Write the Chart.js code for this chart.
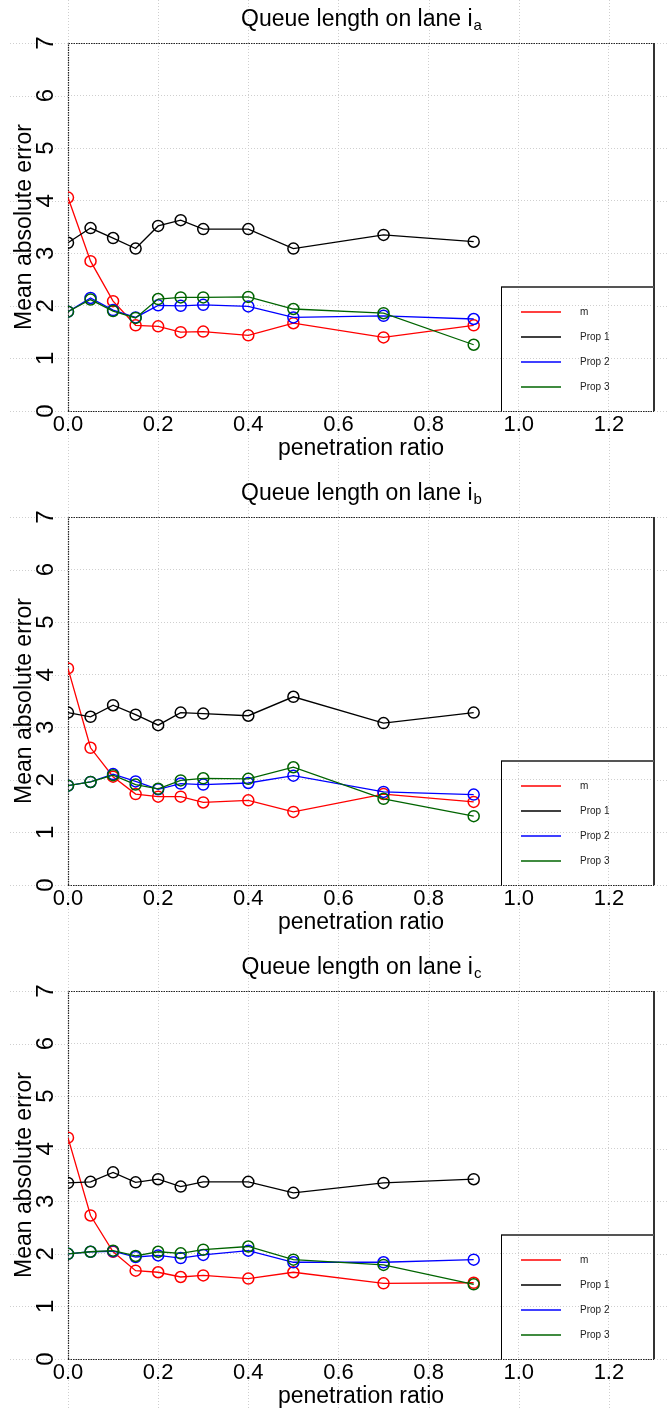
<!DOCTYPE html>
<html>
<head>
<meta charset="utf-8">
<script src="https://cdn.jsdelivr.net/npm/chart.js@4.4.1/dist/chart.umd.min.js"></script>
<style>
html, body { margin: 0; padding: 0; background: #fff; width: 667px; height: 1410px; overflow: hidden; }
.panel { position: absolute; left: 0; width: 667px; height: 474px; }
</style>
</head>
<body>
<div class="panel" style="top:0"><canvas id="chart-a" width="667" height="474"></canvas></div>
<div class="panel" style="top:474px"><canvas id="chart-b" width="667" height="474"></canvas></div>
<div class="panel" style="top:948px"><canvas id="chart-c" width="667" height="474"></canvas></div>
<script>
var penetration = [0, 0.05, 0.1, 0.15, 0.2, 0.25, 0.3, 0.4, 0.5, 0.7, 0.9];
var xTickLabels = ['0.0', '0.2', '0.4', '0.6', '0.8', '1.0', '1.2'];
var yTickLabels = ['0', '1', '2', '3', '4', '5', '6', '7'];
var seriesNames = ['m', 'Prop 1', 'Prop 2', 'Prop 3'];
var seriesColors = ['#ff0000', '#000000', '#0000ff', '#006400'];

// lane i_a
var laneA_m     = [4.06, 2.85, 2.09, 1.63, 1.61, 1.50, 1.51, 1.44, 1.67, 1.40, 1.63];
var laneA_prop1 = [3.20, 3.48, 3.29, 3.09, 3.52, 3.63, 3.46, 3.46, 3.09, 3.35, 3.22];
var laneA_prop2 = [1.89, 2.15, 1.92, 1.78, 2.01, 2.00, 2.02, 1.99, 1.78, 1.81, 1.75];
var laneA_prop3 = [1.89, 2.12, 1.90, 1.77, 2.13, 2.16, 2.16, 2.17, 1.94, 1.86, 1.26];

// lane i_b
var laneB_m     = [4.12, 2.61, 2.06, 1.73, 1.68, 1.68, 1.57, 1.61, 1.39, 1.73, 1.58];
var laneB_prop1 = [3.28, 3.20, 3.42, 3.24, 3.04, 3.28, 3.26, 3.22, 3.58, 3.08, 3.28];
var laneB_prop2 = [1.89, 1.96, 2.11, 1.97, 1.82, 1.93, 1.91, 1.94, 2.08, 1.77, 1.72];
var laneB_prop3 = [1.89, 1.96, 2.09, 1.91, 1.83, 1.99, 2.03, 2.02, 2.24, 1.64, 1.31];

// lane i_c
var laneC_m     = [4.21, 2.73, 2.04, 1.68, 1.65, 1.56, 1.59, 1.53, 1.65, 1.44, 1.45];
var laneC_prop1 = [3.35, 3.37, 3.55, 3.36, 3.42, 3.28, 3.37, 3.37, 3.16, 3.35, 3.42];
var laneC_prop2 = [2.00, 2.04, 2.05, 1.94, 1.97, 1.92, 1.98, 2.06, 1.84, 1.84, 1.89];
var laneC_prop3 = [2.00, 2.04, 2.06, 1.96, 2.04, 2.01, 2.08, 2.14, 1.89, 1.79, 1.42];

var FONT = "'Liberation Sans', Arial, sans-serif";
var GRID_COLOR = '#cfcfcf';

/**
 * Grid lines of the R plot run past the plot box, over the whole figure
 */
var gridExtension = {
    id: 'gridExtension',
    beforeDraw: function (chart) {
        var ctx = chart.ctx;
        var area = chart.chartArea;
        var xs = chart.scales.x;
        var ys = chart.scales.y;
        ctx.save();
        ctx.strokeStyle = GRID_COLOR;
        ctx.lineWidth = 1;
        ctx.setLineDash([1, 2]);
        ctx.beginPath();
        xs.ticks.forEach(function (t) {
            var px = Math.round(xs.getPixelForValue(t.value)) + 0.5;
            ctx.moveTo(px, 0);
            ctx.lineTo(px, area.top);
            ctx.moveTo(px, area.bottom);
            ctx.lineTo(px, chart.height);
        });
        ys.ticks.forEach(function (t) {
            var py = Math.round(ys.getPixelForValue(t.value)) + 0.5;
            ctx.moveTo(10, py);
            ctx.lineTo(area.left, py);
            ctx.moveTo(area.right, py);
            ctx.lineTo(chart.width, py);
        });
        ctx.stroke();
        ctx.restore();
    }
};

/**
 * Plot box : dotted on left, top and bottom, solid on the right
 */
var plotBox = {
    id: 'plotBox',
    beforeDatasetsDraw: function (chart) {
        var ctx = chart.ctx;
        var a = chart.chartArea;
        ctx.save();
        ctx.strokeStyle = '#222';
        ctx.lineWidth = 1.2;
        ctx.setLineDash([1.5, 1]);
        ctx.beginPath();
        ctx.moveTo(a.left + 0.5, a.bottom);
        ctx.lineTo(a.left + 0.5, a.top + 0.5);
        ctx.lineTo(a.right, a.top + 0.5);
        ctx.moveTo(a.left, a.bottom + 0.5);
        ctx.lineTo(a.right, a.bottom + 0.5);
        ctx.stroke();
        ctx.setLineDash([]);
        ctx.strokeStyle = '#333';
        ctx.lineWidth = 2;
        ctx.beginPath();
        ctx.moveTo(a.right, a.top);
        ctx.lineTo(a.right, a.bottom);
        ctx.stroke();
        ctx.restore();
    }
};

/**
 * Legend box at the lower right of the plot
 */
var boxLegend = {
    id: 'boxLegend',
    afterDatasetsDraw: function (chart) {
        var ctx = chart.ctx;
        var a = chart.chartArea;
        var left = a.right - 153;
        var top = a.top + 244;
        ctx.save();
        ctx.strokeStyle = '#555';
        ctx.lineWidth = 2;
        ctx.beginPath();
        ctx.moveTo(left, top);
        ctx.lineTo(a.right, top);
        ctx.stroke();
        ctx.strokeStyle = '#000';
        ctx.lineWidth = 1;
        ctx.beginPath();
        ctx.moveTo(left + 0.5, top);
        ctx.lineTo(left + 0.5, a.bottom);
        ctx.stroke();

        ctx.font = '10px ' + FONT;
        ctx.textBaseline = 'middle';
        ctx.textAlign = 'left';
        chart.data.datasets.forEach(function (ds, i) {
            var y = top + 25 * (i + 1);
            ctx.strokeStyle = ds.borderColor;
            ctx.lineWidth = 1.5;
            ctx.beginPath();
            ctx.moveTo(left + 20, y);
            ctx.lineTo(left + 60, y);
            ctx.stroke();
            ctx.fillStyle = '#222';
            ctx.fillText(ds.label, left + 79, y);
        });
        ctx.restore();
    }
};

/**
 * Title with a subscript lane letter
 */
var laneTitle = {
    id: 'laneTitle',
    afterDraw: function (chart) {
        var opts = chart.options.plugins.laneTitle;
        var ctx = chart.ctx;
        var a = chart.chartArea;
        var main = 'Queue length on lane i';
        ctx.save();
        ctx.fillStyle = '#000';
        ctx.textBaseline = 'alphabetic';
        ctx.textAlign = 'left';
        ctx.font = '23px ' + FONT;
        var w1 = ctx.measureText(main).width;
        ctx.font = '15px ' + FONT;
        var w2 = ctx.measureText(opts.sub).width;
        var x0 = (a.left + a.right) / 2 - (w1 + w2) / 2;
        ctx.font = '23px ' + FONT;
        ctx.fillText(main, x0, 26);
        ctx.font = '15px ' + FONT;
        ctx.fillText(opts.sub, x0 + w1 + 1, 30);
        ctx.restore();
    }
};

/**
 * Build one panel
 */
function makePanel(canvasId, sub, values) {
    var datasets = [];
    for (var i = 0; i < seriesNames.length; i++) {
        var pts = [];
        for (var j = 0; j < penetration.length; j++) {
            pts.push({x: penetration[j], y: values[i][j]});
        }
        datasets.push({
            label: seriesNames[i],
            data: pts,
            borderColor: seriesColors[i],
            backgroundColor: 'rgba(0,0,0,0)',
            pointBorderColor: seriesColors[i],
            pointBackgroundColor: 'rgba(0,0,0,0)',
            borderWidth: 1.3,
            pointRadius: 5.5,
            pointBorderWidth: 1.5,
            pointHoverRadius: 5.5,
            tension: 0,
            // last series on top, like R
            order: seriesNames.length - i
        });
    }

    var ctx = document.getElementById(canvasId).getContext('2d');
    return new Chart(ctx, {
        type: 'line',
        data: {datasets: datasets},
        plugins: [gridExtension, plotBox, boxLegend, laneTitle],
        options: {
            responsive: false,
            animation: false,
            devicePixelRatio: 1,
            layout: {padding: {top: 43, right: 13, left: 0, bottom: 0}},
            plugins: {
                legend: {display: false},
                tooltip: {enabled: false},
                laneTitle: {sub: sub}
            },
            scales: {
                x: {
                    type: 'linear',
                    min: 0,
                    max: 1.3,
                    afterBuildTicks: function (scale) {
                        scale.ticks = xTickLabels.map(function (l) { return {value: parseFloat(l)}; });
                    },
                    afterFit: function (scale) { scale.height = 63; },
                    ticks: {
                        callback: function (v, idx) { return xTickLabels[idx]; },
                        font: {family: FONT, size: 22},
                        color: '#000',
                        padding: 1,
                        maxRotation: 0,
                        autoSkip: false
                    },
                    grid: {color: GRID_COLOR, drawTicks: false},
                    border: {display: false, dash: [1, 2]},
                    title: {
                        display: true,
                        text: 'penetration ratio',
                        font: {family: FONT, size: 23},
                        color: '#000',
                        padding: {top: 0, bottom: 12}
                    }
                },
                y: {
                    type: 'linear',
                    min: 0,
                    max: 7,
                    afterBuildTicks: function (scale) {
                        scale.ticks = yTickLabels.map(function (l) { return {value: parseFloat(l)}; });
                    },
                    afterFit: function (scale) { scale.width = 68; },
                    ticks: {
                        callback: function (v, idx) { return yTickLabels[idx]; },
                        font: {family: FONT, size: 24},
                        color: '#000',
                        minRotation: 90,
                        maxRotation: 90,
                        crossAlign: 'center',
                        padding: 15
                    },
                    grid: {color: GRID_COLOR, drawTicks: false},
                    border: {display: false, dash: [1, 2]},
                    title: {
                        display: true,
                        text: 'Mean absolute error',
                        font: {family: FONT, size: 23},
                        color: '#000',
                        padding: {top: 11, bottom: 0}
                    }
                }
            }
        }
    });
}

makePanel('chart-a', 'a', [laneA_m, laneA_prop1, laneA_prop2, laneA_prop3]);
makePanel('chart-b', 'b', [laneB_m, laneB_prop1, laneB_prop2, laneB_prop3]);
makePanel('chart-c', 'c', [laneC_m, laneC_prop1, laneC_prop2, laneC_prop3]);
</script>
</body>
</html>
